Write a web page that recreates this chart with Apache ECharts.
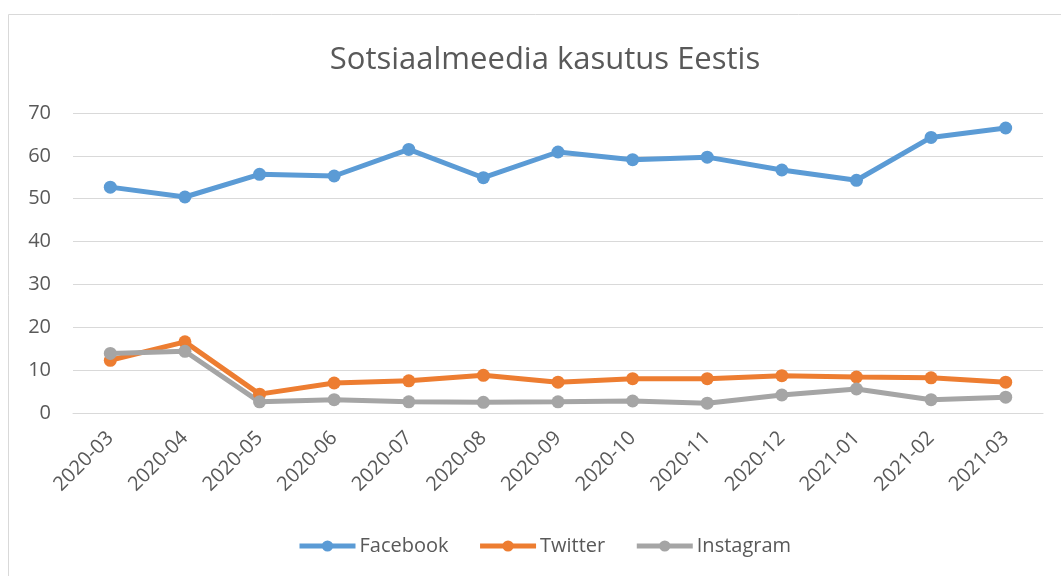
<!DOCTYPE html>
<html>
<head>
<meta charset="utf-8">
<script src="https://cdn.jsdelivr.net/npm/echarts@6/dist/echarts.min.js"></script>
<style>
  html, body { margin: 0; padding: 0; background: #fff; }
  #main { width: 1061px; height: 576px; }
</style>
</head>
<body>
<div id="main"></div>
<script>
// kuud x-teljel
var months = ['2020-03', '2020-04', '2020-05', '2020-06', '2020-07', '2020-08', '2020-09',
  '2020-10', '2020-11', '2020-12', '2021-01', '2021-02', '2021-03'];

// kasutajad igas kanalis
var facebook = [52.7, 50.4, 55.7, 55.3, 61.5, 54.9, 60.9, 59.1, 59.7, 56.7, 54.3, 64.3, 66.5];
var twitter = [12.3, 16.6, 4.4, 7.0, 7.5, 8.8, 7.2, 8.0, 8.0, 8.7, 8.4, 8.2, 7.2];
var instagram = [13.9, 14.4, 2.6, 3.1, 2.6, 2.5, 2.6, 2.8, 2.3, 4.2, 5.6, 3.1, 3.7];

var textColor = '#595959';
var fontName = 'Open Sans';

function lineSeries(name, data, color) {
  return {
    name: name,
    type: 'line',
    data: data,
    symbol: 'circle',
    symbolSize: 13,
    showSymbol: true,
    lineStyle: { width: 5, color: color },
    itemStyle: { color: color },
    emphasis: { disabled: true },
    z: 3
  };
}

var myChart = echarts.init(document.getElementById('main'));

var option = {
  animation: false,
  textStyle: { fontFamily: fontName },
  graphic: [{
    type: 'rect',
    shape: { x: 8.5, y: 14.5, width: 1100, height: 700 },
    style: { fill: 'none', stroke: '#d9d9d9', lineWidth: 1 },
    silent: true
  }],
  title: {
    text: 'Sotsiaalmeedia kasutus Eestis',
    left: 540,
    textAlign: 'center',
    top: 40,
    textStyle: { fontFamily: fontName, fontSize: 31, fontWeight: 'normal', color: textColor }
  },
  legend: {
    bottom: 15,
    left: 292,
    itemWidth: 56,
    itemHeight: 14,
    itemGap: 29,
    lineStyle: { width: 5 },
    textStyle: { fontFamily: fontName, fontSize: 20, color: textColor, padding: [0, 0, 0, -1] },
    data: ['Facebook', 'Twitter', 'Instagram']
  },
  grid: { left: 73, right: 18, top: 113, bottom: 163 },
  xAxis: {
    type: 'category',
    data: months,
    boundaryGap: true,
    axisLine: { show: true, lineStyle: { color: '#d9d9d9', width: 1 } },
    axisTick: { show: false },
    axisLabel: {
      rotate: 45,
      margin: 22,
      interval: 0,
      fontFamily: fontName,
      fontSize: 20,
      color: textColor
    }
  },
  yAxis: {
    type: 'value',
    min: 0,
    max: 70,
    interval: 10,
    axisLine: { show: false },
    axisTick: { show: false },
    splitLine: { lineStyle: { color: '#d9d9d9', width: 1 } },
    axisLabel: { margin: 22, fontFamily: fontName, fontSize: 20, color: textColor }
  },
  series: [
    lineSeries('Facebook', facebook, '#5b9bd5'),
    lineSeries('Twitter', twitter, '#ed7d31'),
    lineSeries('Instagram', instagram, '#a5a5a5')
  ]
};

myChart.setOption(option);
</script>
</body>
</html>
